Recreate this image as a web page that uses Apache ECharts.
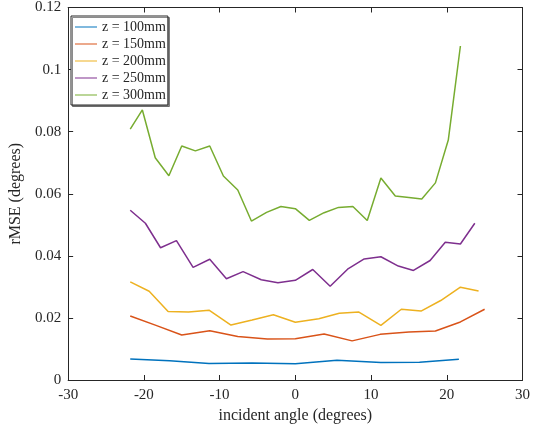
<!DOCTYPE html>
<html>
<head>
<meta charset="utf-8">
<script src="https://cdn.jsdelivr.net/npm/echarts@6/dist/echarts.min.js"></script>
<style>
  html, body { margin: 0; padding: 0; background: #fff; }
  #chart { width: 533px; height: 430px; }
</style>
</head>
<body>
<div id="chart"></div>
<script>

// incident angle (degrees) and rMSE (degrees) for each depth
var names = ['z = 100mm', 'z = 150mm', 'z = 200mm', 'z = 250mm', 'z = 300mm'];

var x100 = [-21.8, -16.6, -11.4, -5.7, 0, 5.5, 11.3, 16.4, 21.6];
var y100 = [0.0068, 0.0062, 0.0053, 0.0055, 0.0052, 0.0064, 0.0056, 0.0057, 0.0067];

var x150 = [-21.8, -18.4, -15.0, -11.3, -7.6, -3.7, 0, 3.8, 7.5, 11.2, 15.0, 18.5, 21.8, 25.0];
var y150 = [0.0206, 0.0176, 0.0145, 0.0159, 0.0140, 0.0132, 0.0133, 0.0148, 0.0126, 0.0147, 0.0155, 0.0158, 0.0187, 0.0228];

var x200 = [-21.8, -19.3, -16.8, -14.1, -11.4, -8.5, -5.7, -2.9, 0, 3.1, 5.8, 8.4, 11.3, 14.0, 16.6, 19.2, 21.8, 24.2];
var y200 = [0.0316, 0.0286, 0.0221, 0.0219, 0.0225, 0.0177, 0.0193, 0.0210, 0.0186, 0.0197, 0.0215, 0.0219, 0.0176, 0.0228, 0.0222, 0.0256, 0.0299, 0.0287];

var x250 = [-21.8, -19.8, -17.8, -15.7, -13.5, -11.3, -9.1, -6.9, -4.5, -2.3, 0, 2.3, 4.6, 6.9, 9.1, 11.3, 13.6, 15.6, 17.8, 19.8, 21.8, 23.7];
var y250 = [0.0547, 0.0505, 0.0426, 0.0449, 0.0363, 0.0389, 0.0326, 0.0349, 0.0323, 0.0313, 0.0321, 0.0356, 0.0302, 0.0357, 0.0390, 0.0397, 0.0367, 0.0353, 0.0385, 0.0444, 0.0438, 0.0505];

var x300 = [-21.8, -20.2, -18.5, -16.7, -15.0, -13.2, -11.3, -9.5, -7.6, -5.8, -3.8, -1.9, 0, 1.85, 3.8, 5.7, 7.6, 9.5, 11.3, 13.2, 15.0, 16.7, 18.5, 20.2, 21.8];
var y300 = [0.0808, 0.0870, 0.0716, 0.0658, 0.0754, 0.0738, 0.0754, 0.0657, 0.0612, 0.0512, 0.0540, 0.0559, 0.0552, 0.0514, 0.0539, 0.0556, 0.0559, 0.0514, 0.0651, 0.0593, 0.0588, 0.0583, 0.0635, 0.0773, 0.1076];

var colors = ['#0072BD', '#D95319', '#EDB120', '#7E2F8E', '#77AC30'];

var font = '"Liberation Serif", "DejaVu Serif", serif';
var ink = '#262626';

function pairs(xs, ys) {
    var out = [];
    for (var i = 0; i < xs.length; i++) {
        out.push([xs[i], ys[i]]);
    }
    return out;
}

function makeSeries(i, xs, ys) {
    return {
        name: names[i],
        type: 'line',
        showSymbol: false,
        symbol: 'none',
        lineStyle: { width: 1.5, color: colors[i] },
        itemStyle: { color: colors[i] },
        data: pairs(xs, ys)
    };
}

// box axis: line, inward ticks, no grid
function boxAxis(extra) {
    var a = {
        type: 'value',
        axisLine: { show: true, onZero: false, lineStyle: { color: ink, width: 1 } },
        axisTick: { show: true, inside: true, length: 5, lineStyle: { color: ink } },
        axisLabel: { show: false },
        splitLine: { show: false }
    };
    for (var k in extra) a[k] = extra[k];
    return a;
}

var chart = echarts.init(document.getElementById('chart'));

var option = {
    animation: false,
    backgroundColor: '#fff',
    grid: { left: 62, right: 7, top: 7, bottom: 50, containLabel: false },
    legend: {
        orient: 'vertical',
        left: 71,
        top: 16,
        padding: [4, 2, 3, 4],
        itemGap: 3,
        itemWidth: 22,
        itemHeight: 14,
        icon: 'path://M0,6.5 L22,6.5 L22,7.5 L0,7.5 Z',
        backgroundColor: '#fff',
        borderColor: ink,
        borderWidth: 1,
        borderRadius: 0,
        shadowColor: 'rgba(0,0,0,0.45)',
        shadowOffsetX: 1.5,
        shadowOffsetY: 1.5,
        shadowBlur: 0,
        textStyle: { fontFamily: font, fontSize: 14, color: ink, lineHeight: 14 },
        data: names
    },
    xAxis: [
        boxAxis({
            min: -30, max: 30, interval: 10,
            position: 'bottom',
            name: 'incident angle (degrees)',
            nameLocation: 'middle',
            nameGap: 23,
            nameTextStyle: { fontFamily: font, fontSize: 16, color: ink },
            axisLabel: { show: true, fontFamily: font, fontSize: 15, color: ink, margin: 8 }
        }),
        boxAxis({ min: -30, max: 30, interval: 10, position: 'top' })
    ],
    yAxis: [
        boxAxis({
            min: 0, max: 0.12, interval: 0.02,
            position: 'left',
            name: 'rMSE (degrees)',
            nameLocation: 'middle',
            nameGap: 29,
            nameTextStyle: { fontFamily: font, fontSize: 16, color: ink },
            axisLabel: {
                show: true, fontFamily: font, fontSize: 15, color: ink, margin: 7,
                formatter: function (v) { return String(parseFloat(v.toFixed(2))); }
            }
        }),
        boxAxis({ min: 0, max: 0.12, interval: 0.02, position: 'right' })
    ],
    series: [
        makeSeries(0, x100, y100),
        makeSeries(1, x150, y150),
        makeSeries(2, x200, y200),
        makeSeries(3, x250, y250),
        makeSeries(4, x300, y300)
    ]
};

chart.setOption(option);

</script>
</body>
</html>
